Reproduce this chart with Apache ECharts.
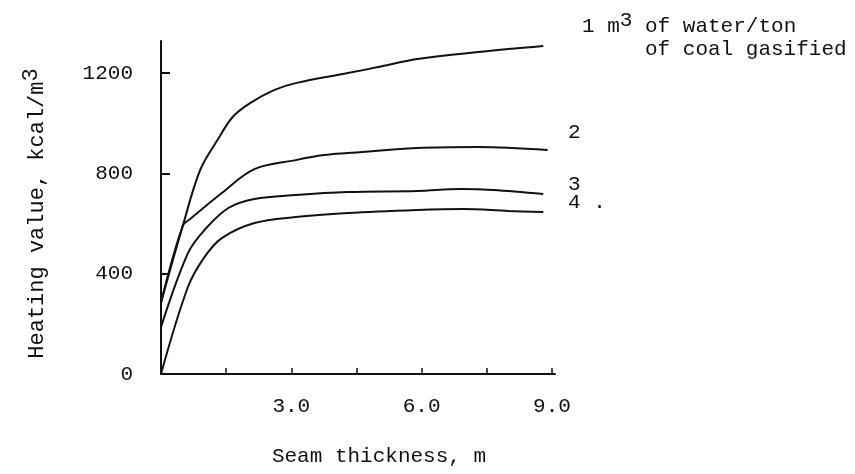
<!DOCTYPE html>
<html><head><meta charset="utf-8">
<script src="https://cdn.jsdelivr.net/npm/echarts@6/dist/echarts.min.js"></script>
<style>html,body{margin:0;padding:0;background:#fff}#c{width:855px;height:474px}</style>
</head><body><div id="c"></div>
<script>
// Seam thickness (m) and heating value (kcal/m3)
const curve1X = [0, 0.5, 0.9, 1.3, 1.65, 2.05, 2.6, 3.1, 4.3, 5.0, 5.9, 7.3, 8.8];
const curve1Y = [285, 590, 813, 933, 1025, 1080, 1132, 1160, 1200, 1224, 1256, 1284, 1308];
const curve2X = [0, 0.5, 0.7, 1.4, 2.15, 3.1, 3.75, 4.3, 5.9, 7.3, 8.9];
const curve2Y = [285, 590, 622, 722, 817, 853, 873, 881, 901, 905, 893];
const curve3X = [0, 0.62, 1.0, 1.55, 2.15, 3.1, 4.3, 5.9, 6.9, 7.65, 8.8];
const curve3Y = [187, 482, 574, 662, 698, 714, 726, 730, 738, 734, 718];
const curve4X = [0, 0.62, 1.0, 1.4, 2.15, 3.1, 4.3, 5.9, 6.95, 8.0, 8.8];
const curve4Y = [0, 347, 466, 542, 602, 626, 642, 654, 658, 650, 646];
const seriesNames = ['1', '2', '3', '4'];
const xTickValues = [1.5, 3, 4.5, 6, 7.5, 9];
const xLabelValues = [3, 6, 9];
const yTickValues = [400, 800, 1200];
const yLabelValues = [0, 400, 800, 1200];

const FONT = 'Liberation Mono';
const INK = '#111';
const zip = (xs, ys) => xs.map((x, i) => [x, ys[i]]);
const curves = [zip(curve1X, curve1Y), zip(curve2X, curve2Y), zip(curve3X, curve3Y), zip(curve4X, curve4Y)];

const chart = echarts.init(document.getElementById('c'), null, {renderer: 'canvas'});
chart.setOption({
  backgroundColor: '#fff',
  animation: false,
  grid: {left: 161, top: 41, width: 394, height: 333, containLabel: false},
  xAxis: {
    type: 'value', min: 0, max: 9.07,
    name: 'Seam thickness, m', nameLocation: 'middle', nameGap: 72,
    nameTextStyle: {fontFamily: FONT, fontSize: 21, color: INK, padding: [0, 0, 0, 42]},
    axisLine: {show: true, onZero: false, lineStyle: {color: INK, width: 2}},
    axisTick: {show: true, inside: true, length: 6, customValues: xTickValues, lineStyle: {color: INK, width: 1.5}},
    axisLabel: {customValues: xLabelValues, margin: 22, fontFamily: FONT, fontSize: 21, color: INK,
      formatter: v => v.toFixed(1)},
    splitLine: {show: false}
  },
  yAxis: {
    type: 'value', min: 0, max: 1328,
    name: 'Heating value, kcal/m{sup|3}', nameLocation: 'middle', nameGap: 107, nameRotate: 90,
    nameTextStyle: {fontFamily: FONT, fontSize: 22, color: INK, padding: [0, 12, 0, 0],
      rich: {sup: {fontFamily: FONT, fontSize: 22, color: INK, padding: [0, 0, 12, 0]}}},
    axisLine: {show: true, onZero: false, lineStyle: {color: INK, width: 2}},
    axisTick: {show: true, inside: true, length: 9, customValues: yTickValues, lineStyle: {color: INK, width: 2}},
    axisLabel: {customValues: yLabelValues, margin: 28, fontFamily: FONT, fontSize: 21, color: INK,
      formatter: v => String(v)},
    splitLine: {show: false}
  },
  series: curves.map((d, i) => ({
    name: seriesNames[i], type: 'line', data: d, smooth: 0.35, symbol: 'none',
    lineStyle: {color: INK, width: 2}
  })),
  graphic: [
    {type: 'text', left: 582, top: 10, style: {
      text: '1 m{sup|3} of water/ton', fontFamily: FONT, fontSize: 21, fill: INK,
      rich: {sup: {fontFamily: FONT, fontSize: 21, fill: INK, padding: [0, 0, 12, 0]}}}},
    {type: 'text', left: 645, top: 39, style: {text: 'of coal gasified', fontFamily: FONT, fontSize: 21, fill: INK}},
    {type: 'text', left: 568, top: 122, style: {text: '2', fontFamily: FONT, fontSize: 21, fill: INK}},
    {type: 'text', left: 568, top: 174, style: {text: '3', fontFamily: FONT, fontSize: 21, fill: INK}},
    {type: 'text', left: 568, top: 192, style: {text: '4 .', fontFamily: FONT, fontSize: 21, fill: INK}}
  ]
});
</script></body></html>
